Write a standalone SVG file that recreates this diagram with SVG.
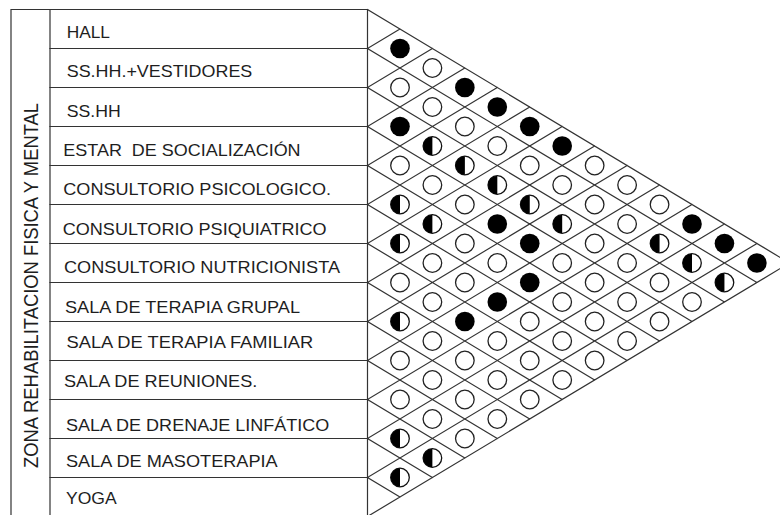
<svg xmlns="http://www.w3.org/2000/svg" xmlns:xlink="http://www.w3.org/1999/xlink" width="780" height="515" viewBox="0 0 780 515">
<style>
.ln{stroke:#333;stroke-width:1.2;fill:none;stroke-linecap:square}
.lbl{font-family:"Liberation Sans",Arial,sans-serif;font-size:16.5px;fill:#1e1e1e}
.zone{font-family:"Liberation Sans",Arial,sans-serif;font-size:20px;fill:#1e1e1e}
</style>
<defs>
<g id="F"><circle r="9.8" fill="#000"/></g>
<g id="E"><circle r="9.3" fill="#fff" stroke="#222" stroke-width="1.3"/></g>
<g id="H"><circle r="9.3" fill="#fff" stroke="#111" stroke-width="1.3"/><path d="M0,-9.3 A9.3,9.3 0 0 0 0,9.3 Z" fill="#000"/></g>
</defs>
<rect width="780" height="515" fill="#fff"/>
<g id="frame">
<path class="ln" d="M11,9.5 H367.5 M11,9.5 V520 M50,9.5 V520 M367.5,9.5 V520"/>
</g>
<g id="zone-label">
<text class="zone" transform="translate(38.3,285.5) rotate(-90)" text-anchor="middle" textLength="365" lengthAdjust="spacingAndGlyphs">ZONA REHABILITACION FISICA Y MENTAL</text>
</g>
<g id="rows">
<path class="ln" d="M50,48.5 H367.5 M50,87.5 H367.5 M50,126.5 H367.5 M50,165.5 H367.5 M50,204.5 H367.5 M50,243.5 H367.5 M50,282.5 H367.5 M50,321.5 H367.5 M50,360.5 H367.5 M50,399.5 H367.5 M50,438.5 H367.5 M50,477.5 H367.5"/>
</g>
<g id="n-hall"><text class="lbl" x="66.7" y="38.3" textLength="43.3" lengthAdjust="spacingAndGlyphs">HALL</text></g>
<g id="n-sshh-vest"><text class="lbl" x="66.7" y="77.3" textLength="185.6" lengthAdjust="spacingAndGlyphs">SS.HH.+VESTIDORES</text></g>
<g id="n-sshh"><text class="lbl" x="66.7" y="117" textLength="54" lengthAdjust="spacingAndGlyphs">SS.HH</text></g>
<g id="n-estar"><text class="lbl" x="63.3" y="155.7" textLength="237.3" lengthAdjust="spacingAndGlyphs" xml:space="preserve">ESTAR  DE SOCIALIZACIÓN</text></g>
<g id="n-psicologico"><text class="lbl" x="63.3" y="195" textLength="267.7" lengthAdjust="spacingAndGlyphs">CONSULTORIO PSICOLOGICO.</text></g>
<g id="n-psiquiatrico"><text class="lbl" x="62.7" y="235" textLength="264" lengthAdjust="spacingAndGlyphs">CONSULTORIO PSIQUIATRICO</text></g>
<g id="n-nutricionista"><text class="lbl" x="64" y="273.3" textLength="276" lengthAdjust="spacingAndGlyphs">CONSULTORIO NUTRICIONISTA</text></g>
<g id="n-grupal"><text class="lbl" x="65" y="312.7" textLength="235" lengthAdjust="spacingAndGlyphs">SALA DE TERAPIA GRUPAL</text></g>
<g id="n-familiar"><text class="lbl" x="66.5" y="348.3" textLength="246.8" lengthAdjust="spacingAndGlyphs">SALA DE TERAPIA FAMILIAR</text></g>
<g id="n-reuniones"><text class="lbl" x="64" y="386.7" textLength="193.3" lengthAdjust="spacingAndGlyphs">SALA DE REUNIONES.</text></g>
<g id="n-drenaje"><text class="lbl" x="66" y="430.7" textLength="263.3" lengthAdjust="spacingAndGlyphs">SALA DE DRENAJE LINFÁTICO</text></g>
<g id="n-masoterapia"><text class="lbl" x="66" y="466.7" textLength="211.7" lengthAdjust="spacingAndGlyphs">SALA DE MASOTERAPIA</text></g>
<g id="n-yoga"><text class="lbl" x="66" y="504" textLength="50.7" lengthAdjust="spacingAndGlyphs">YOGA</text></g>
<g id="connectors">
<path class="ln" d="M367.5,9.5 L789.35,263 L367.5,516.5
M367.5,48.5 L756.9,282.5 M367.5,48.5 L399.95,29
M367.5,87.5 L724.45,302 M367.5,87.5 L432.4,48.5
M367.5,126.5 L692,321.5 M367.5,126.5 L464.85,68
M367.5,165.5 L659.55,341 M367.5,165.5 L497.3,87.5
M367.5,204.5 L627.1,360.5 M367.5,204.5 L529.75,107
M367.5,243.5 L594.65,380 M367.5,243.5 L562.2,126.5
M367.5,282.5 L562.2,399.5 M367.5,282.5 L594.65,146
M367.5,321.5 L529.75,419 M367.5,321.5 L627.1,165.5
M367.5,360.5 L497.3,438.5 M367.5,360.5 L659.55,185
M367.5,399.5 L464.85,458 M367.5,399.5 L692,204.5
M367.5,438.5 L432.4,477.5 M367.5,438.5 L724.45,224
M367.5,477.5 L399.95,497 M367.5,477.5 L756.9,243.5"/>
</g>
<g id="cells">
<!-- d=1 -->
<use href="#F" x="400" y="48.5"/><use href="#E" x="400" y="87.5"/><use href="#F" x="400" y="126.5"/><use href="#E" x="400" y="165.5"/><use href="#H" x="400" y="204.5"/><use href="#H" x="400" y="243.5"/><use href="#E" x="400" y="282.5"/><use href="#H" x="400" y="321.5"/><use href="#E" x="400" y="360.5"/><use href="#E" x="400" y="399.5"/><use href="#H" x="400" y="438.5"/><use href="#H" x="400" y="477.5"/>
<!-- d=2 -->
<use href="#E" x="432.4" y="68"/><use href="#E" x="432.4" y="107"/><use href="#H" x="432.4" y="146"/><use href="#E" x="432.4" y="185"/><use href="#H" x="432.4" y="224"/><use href="#E" x="432.4" y="263"/><use href="#E" x="432.4" y="302"/><use href="#E" x="432.4" y="341"/><use href="#E" x="432.4" y="380"/><use href="#E" x="432.4" y="419"/><use href="#H" x="432.4" y="458"/>
<!-- d=3 -->
<use href="#F" x="464.85" y="87.5"/><use href="#E" x="464.85" y="126.5"/><use href="#H" x="464.85" y="165.5"/><use href="#E" x="464.85" y="204.5"/><use href="#E" x="464.85" y="243.5"/><use href="#E" x="464.85" y="282.5"/><use href="#F" x="464.85" y="321.5"/><use href="#E" x="464.85" y="360.5"/><use href="#E" x="464.85" y="399.5"/><use href="#E" x="464.85" y="438.5"/>
<!-- d=4 -->
<use href="#F" x="497.3" y="107"/><use href="#E" x="497.3" y="146"/><use href="#H" x="497.3" y="185"/><use href="#F" x="497.3" y="224"/><use href="#E" x="497.3" y="263"/><use href="#F" x="497.3" y="302"/><use href="#E" x="497.3" y="341"/><use href="#E" x="497.3" y="380"/><use href="#E" x="497.3" y="419"/>
<!-- d=5 -->
<use href="#F" x="529.75" y="126.5"/><use href="#E" x="529.75" y="165.5"/><use href="#H" x="529.75" y="204.5"/><use href="#F" x="529.75" y="243.5"/><use href="#F" x="529.75" y="282.5"/><use href="#E" x="529.75" y="321.5"/><use href="#E" x="529.75" y="360.5"/><use href="#E" x="529.75" y="399.5"/>
<!-- d=6 -->
<use href="#F" x="562.2" y="146"/><use href="#E" x="562.2" y="185"/><use href="#H" x="562.2" y="224"/><use href="#E" x="562.2" y="263"/><use href="#E" x="562.2" y="302"/><use href="#E" x="562.2" y="341"/><use href="#E" x="562.2" y="380"/>
<!-- d=7 -->
<use href="#E" x="594.65" y="165.5"/><use href="#E" x="594.65" y="204.5"/><use href="#E" x="594.65" y="243.5"/><use href="#E" x="594.65" y="282.5"/><use href="#E" x="594.65" y="321.5"/><use href="#E" x="594.65" y="360.5"/>
<!-- d=8 -->
<use href="#E" x="627.1" y="185"/><use href="#E" x="627.1" y="224"/><use href="#E" x="627.1" y="263"/><use href="#E" x="627.1" y="302"/><use href="#E" x="627.1" y="341"/>
<!-- d=9 -->
<use href="#E" x="659.55" y="204.5"/><use href="#H" x="659.55" y="243.5"/><use href="#E" x="659.55" y="282.5"/><use href="#E" x="659.55" y="321.5"/>
<!-- d=10 -->
<use href="#F" x="692" y="224"/><use href="#H" x="692" y="263"/><use href="#E" x="692" y="302"/>
<!-- d=11 -->
<use href="#F" x="724.45" y="243.5"/><use href="#H" x="724.45" y="282.5"/>
<!-- d=12 -->
<use href="#F" x="756.9" y="263"/>
</g>
</svg>
